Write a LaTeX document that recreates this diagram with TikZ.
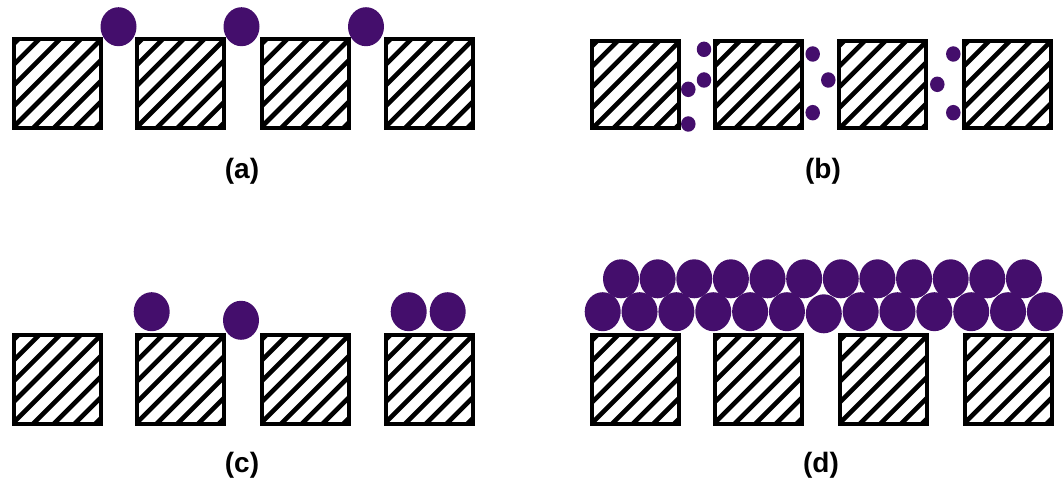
\documentclass[tikz,border=0pt]{standalone}
\usepackage{fontspec}
\setmainfont{Liberation Sans}
\usetikzlibrary{shapes.geometric}
\definecolor{grain}{RGB}{68,14,108}
\tikzset{
  block/.style={draw=black, line width=4pt, fill=white, minimum width=87pt, minimum height=89pt, inner sep=0pt,
    path picture={
      \foreach \k in {-7,...,7}
        \draw[line width=4.6pt] ([xshift=\k*20.7pt]path picture bounding box.center) ++(-70pt,-70pt) -- ++(140pt,140pt);
    }},
  big/.style={ellipse, fill=grain, minimum width=36pt, minimum height=39pt, inner sep=0pt},
  small/.style={ellipse, fill=grain, minimum width=14.5pt, minimum height=15.5pt, inner sep=0pt},
  lab/.style={font=\fontsize{28}{31}\selectfont\bfseries, inner sep=0pt}
}
\begin{document}
\begin{tikzpicture}[x=1pt,y=-1pt]
\useasboundingbox (0,0) rectangle (1063,481);
% panel (a)
\foreach \i/\x in {1/57.2,2/180.7,3/305.2,4/429.2}
  \node[block] (a\i) at (\x,83.3) {};
\node[big] (ag1) at (118.5,26.7) {};
\node[big] (ag2) at (241.5,26.7) {};
\node[big] (ag3) at (366,26.7) {};
\node[lab] (la) at (242,171.5) {(a)};
% panel (b)
\foreach \i/\x in {1/635.8,2/758,3/882.8,4/1007.2}
  \node[block,minimum height=87pt] (b\i) at (\x,85) {};
\node[small] (bg1) at (688.3,89.3) {};
\node[small] (bg2) at (688.3,124) {};
\node[small] (bg3) at (704,49.3) {};
\node[small] (bg4) at (704,80) {};
\node[small] (bg5) at (812.7,54) {};
\node[small] (bg6) at (828.3,80) {};
\node[small] (bg7) at (812.7,112.7) {};
\node[small] (bg8) at (937.3,84.3) {};
\node[small] (bg9) at (953.3,54) {};
\node[small] (bg10) at (953.3,112.7) {};
\node[lab] (lb) at (823,171.5) {(b)};
% panel (c)
\foreach \i/\x in {1/57.2,2/180.7,3/305.2,4/429.2}
  \node[block] (c\i) at (\x,379) {};
\node[big] (cg1) at (151.7,311.7) {};
\node[big] (cg2) at (241,320.3) {};
\node[big] (cg3) at (408.7,311.7) {};
\node[big] (cg4) at (447.7,311.7) {};
\node[lab] (lc) at (242,465) {(c)};
% panel (d)
\foreach \i/\x in {1/635.8,2/758.3,3/883.5,4/1008.2}
  \node[block] (d\i) at (\x,379.3) {};
\foreach \i in {0,...,12}
  \node[big] (dl\i) at ({602.7+\i*36.85},{\i==6 ? 313.8 : 311.7}) {};
\foreach \i in {0,...,11}
  \node[big] (du\i) at ({621+\i*36.63},278.8) {};
\node[lab] (ld) at (821,465) {(d)};
\end{tikzpicture}
\end{document}
